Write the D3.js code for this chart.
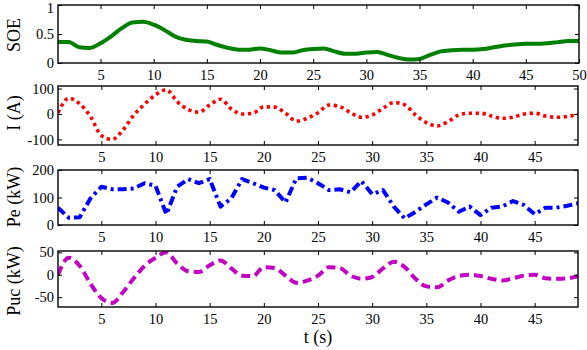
<!DOCTYPE html>
<html>
<head>
<meta charset="utf-8">
<script src="https://cdn.jsdelivr.net/npm/d3@7"></script>
<style>
  body { margin: 0; background: #fff; }
  text { font-family: "Liberation Serif", "Times New Roman", serif; fill: #000; }
</style>
</head>
<body>
<div id="chart"></div>
<script>
// time axes (s)
var tSoe = [1,2,3,4,5,6,7,8,9,10,11,12,13,14,15,16,17,18,19,20,21,22,23,24,25,
            26,27,28,29,30,31,32,33,34,35,36,37,38,39,40,41,42,43,44,45,46,47,48,49,50];
var tOut = [1,2,3,4,5,6,7,8,9,10,11,12,13,14,15,16,17,18,19,20,21,22,23,24,25,
            26,27,28,29,30,31,32,33,34,35,36,37,38,39,40,41,42,43,44,45,46,47,48,49];

// series
var soe = [0.36,0.36,0.27,0.26,0.34,0.46,0.60,0.70,0.71,0.66,0.57,0.46,0.40,0.38,0.37,0.31,0.26,
           0.23,0.23,0.25,0.22,0.18,0.18,0.22,0.24,0.25,0.20,0.16,0.16,0.18,0.19,0.14,0.09,0.06,
           0.07,0.14,0.20,0.22,0.23,0.23,0.24,0.27,0.30,0.32,0.33,0.33,0.34,0.36,0.38,0.38];
var current = [5,62,40,-10,-85,-100,-63,-4,39,75,95,49,18,7,35,58,20,0,3,28,27,3,-28,-17,5,
               35,29,5,-13,-4,22,45,36,-4,-34,-47,-30,-4,3,3,-8,-17,-13,0,3,-8,-13,-10,0];
var pe = [63,26,28,97,139,130,130,133,152,143,39,139,167,152,167,67,97,167,152,136,
          127,82,170,172,152,127,130,119,160,112,127,67,24,48,75,100,82,48,67,36,
          63,67,87,73,39,63,63,70,79];
var puc = [0,38,20,-20,-52,-63,-39,-8,20,38,50,25,8,6,21,32,14,-2,-3,17,15,-2,-18,-13,-2,
           17,15,-2,-9,-5,14,29,17,-9,-26,-28,-13,-3,0,-3,-9,-13,-8,-2,0,-8,-9,-8,-3];

// tick labels
var xTicksTop = [5,10,15,20,25,30,35,40,45,50];
var xTicks = [5,10,15,20,25,30,35,40,45];
var soeTicks = [0,0.5,1];
var currentTicks = [-100,0,100];
var peTicks = [0,100,200];
var pucTicks = [-50,0,50];

var width = 587, height = 350;
var left = 58;

var svg = d3.select("#chart").append("svg")
  .attr("width", width)
  .attr("height", height);

var panels = [
  {t: tSoe, v: soe, label: "SOE", top: 5, bottom: 63, right: 579, xd: [1,50], yd: [0,1],
   xt: xTicksTop, yt: soeTicks, fmt: function(d){return d === 0.5 ? "0.5" : d;},
   color: "#008000", dash: null, w: 4, curve: d3.curveMonotoneX, ly: 35},
  {t: tOut, v: current, label: "I (A)", top: 86, bottom: 145, right: 578, xd: [1,49], yd: [-122,110],
   xt: xTicks, yt: currentTicks, fmt: function(d){return d;},
   color: "#ff0000", dash: "3.3,3.6", w: 3.6, curve: d3.curveMonotoneX, ly: 113},
  {t: tOut, v: pe, label: "Pe (kW)", top: 170, bottom: 225, right: 578, xd: [1,49], yd: [0,200],
   xt: xTicks, yt: peTicks, fmt: function(d){return d;},
   color: "#0000ff", dash: "9,4,3,4", w: 4, curve: d3.curveLinear, ly: 197},
  {t: tOut, v: puc, label: "Puc (kW)", top: 251, bottom: 307, right: 578, xd: [1,49], yd: [-72,53],
   xt: xTicks, yt: pucTicks, fmt: function(d){return d;},
   color: "#c400c4", dash: "9,5", w: 4, curve: d3.curveMonotoneX, ly: 281}
];

panels.forEach(function(p) {
  var x = d3.scaleLinear().domain(p.xd).range([left, p.right]);
  var y = d3.scaleLinear().domain(p.yd).range([p.bottom, p.top]);
  var g = svg.append("g");

  var clipId = "clip" + p.top;
  g.append("clipPath").attr("id", clipId)
    .append("rect")
      .attr("x", left).attr("y", p.top)
      .attr("width", p.right - left).attr("height", p.bottom - p.top);

  var line = d3.line()
    .x(function(d, i) {return x(p.t[i]);})
    .y(function(d) {return y(d);})
    .curve(p.curve);

  g.append("path")
    .datum(p.v)
    .attr("clip-path", "url(#" + clipId + ")")
    .attr("d", line)
    .style("fill", "none")
    .style("stroke", p.color)
    .style("stroke-width", p.w)
    .style("stroke-dasharray", p.dash)
    .style("stroke-linejoin", "round");

  // axes, ticks pointing inward
  var xb = g.append("g")
    .attr("transform", "translate(0," + p.bottom + ")")
    .call(d3.axisBottom(x).tickValues(p.xt).tickSize(-4).tickPadding(7));
  var xt = g.append("g")
    .attr("transform", "translate(0," + p.top + ")")
    .call(d3.axisTop(x).tickValues(p.xt).tickSize(-4).tickFormat(""));
  var yl = g.append("g")
    .attr("transform", "translate(" + left + ",0)")
    .call(d3.axisLeft(y).tickValues(p.yt).tickSize(-4).tickPadding(4).tickFormat(p.fmt));
  var yr = g.append("g")
    .attr("transform", "translate(" + p.right + ",0)")
    .call(d3.axisRight(y).tickValues(p.yt).tickSize(-4).tickFormat(""));

  [xb, xt, yl, yr].forEach(function(a) {
    a.select(".domain").remove();
    a.selectAll("line").style("stroke", "#000").style("stroke-width", 1);
    a.selectAll("text").style("font-size", "14.5px").style("font-family", "Liberation Serif");
  });

  // keep the top label of the first panel inside the page
  yl.selectAll(".tick text")
    .filter(function(d) {return y(d) < 8;})
    .attr("y", 3);

  g.append("rect")
    .attr("x", left).attr("y", p.top)
    .attr("width", p.right - left).attr("height", p.bottom - p.top)
    .style("fill", "none")
    .style("stroke", "#000")
    .style("stroke-width", 1.4);

  g.append("text")
    .attr("transform", "translate(20," + p.ly + ") rotate(-90)")
    .attr("text-anchor", "middle")
    .style("font-size", "18px")
    .text(p.label);
});

svg.append("text")
  .attr("x", 318)
  .attr("y", 343)
  .attr("text-anchor", "middle")
  .style("font-size", "18px")
  .text("t (s)");
</script>
</body>
</html>
